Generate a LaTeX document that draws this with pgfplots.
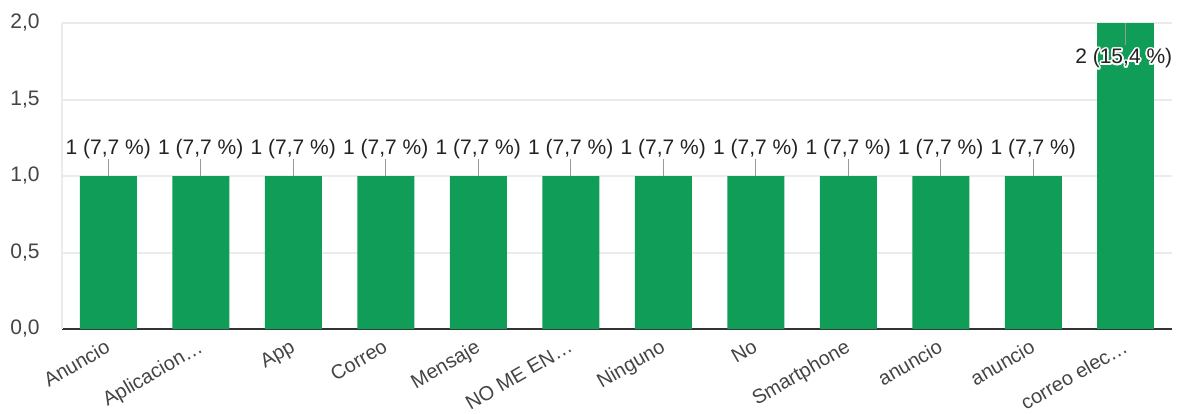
\documentclass[border=0pt]{standalone}
\usepackage{fontspec}
\setmainfont{Liberation Sans}
\usepackage{pgfplots}
\pgfplotsset{compat=1.18}
\usepackage{contour}
\contourlength{0.8pt}
\definecolor{bargreen}{HTML}{0F9D58}
\definecolor{gridgray}{HTML}{EBEBEB}
\definecolor{axisgray}{HTML}{333333}
\definecolor{tickgray}{HTML}{444444}
\definecolor{annot}{HTML}{222222}
\definecolor{leadgray}{HTML}{999999}
\begin{document}
\begin{tikzpicture}[font=\fontsize{10.5}{12.6}\selectfont]
\useasboundingbox (0,0) rectangle (590.5pt,206.5pt);
\begin{axis}[
  at={(31pt,42pt)}, anchor=south west,
  scale only axis, width=555pt, height=153pt,
  xmin=-0.5, xmax=11.5, ymin=0, ymax=2,
  clip=false,
  xtick={0,...,11},
  xticklabels={Anuncio, Aplicacion…, App, Correo, Mensaje, NO ME EN…, Ninguno, No, Smartphone, anuncio, anuncio, correo elec…},
  xticklabel style={yshift=-4.6pt, xshift=-2pt, rotate=30, anchor=north east, inner sep=0pt, text=tickgray, font=\fontsize{10}{12}\selectfont},
  ytick={0,0.5,1,1.5,2},
  yticklabel style={/pgf/number format/.cd, fixed, fixed zerofill, precision=1, use comma, assume math mode=true, /tikz/.cd, inner sep=0pt, xshift=-11pt, text=tickgray},
  major tick length=0pt,
  ymajorgrids,
  grid style={draw=gridgray, line width=1pt},
  axis x line*=bottom, axis y line*=left,
  x axis line style={-, draw=axisgray, line width=0.75pt},
  y axis line style={-, draw=gridgray, line width=1pt},
]
\addplot[ybar, bar shift=0pt, bar width=28.5pt, fill=bargreen, draw=none,
  error bars/.cd, y dir=plus, y explicit, error mark=none,
  error bar style={draw=leadgray, line width=0.6pt},
  /pgfplots/.cd,
  nodes near coords={1 (7,7 \%)},
  every node near coord/.append style={anchor=base, yshift=11pt, inner sep=0pt, text=annot, font=\fontsize{10.5}{12.6}\selectfont},
] table[x=x, y=y, y error=e] {
x y e
0 1 0.11
1 1 0.11
2 1 0.11
3 1 0.11
4 1 0.11
5 1 0.11
6 1 0.11
7 1 0.11
8 1 0.11
9 1 0.11
10 1 0.11
};
\addplot[ybar, bar shift=0pt, bar width=28.5pt, fill=bargreen, draw=none,
  error bars/.cd, y dir=minus, y explicit, error mark=none,
  error bar style={draw=leadgray, line width=0.6pt},
  /pgfplots/.cd,
  nodes near coords={\contour{white}{2 (15,4 \%)}},
  every node near coord/.append style={anchor=base, yshift=-20.5pt, xshift=-1pt, inner sep=0pt, text=annot, font=\fontsize{10.5}{12.6}\selectfont},
] table[x=x, y=y, y error=e] {
x y e
11 2 0.145
};
\end{axis}
\end{tikzpicture}
\end{document}
